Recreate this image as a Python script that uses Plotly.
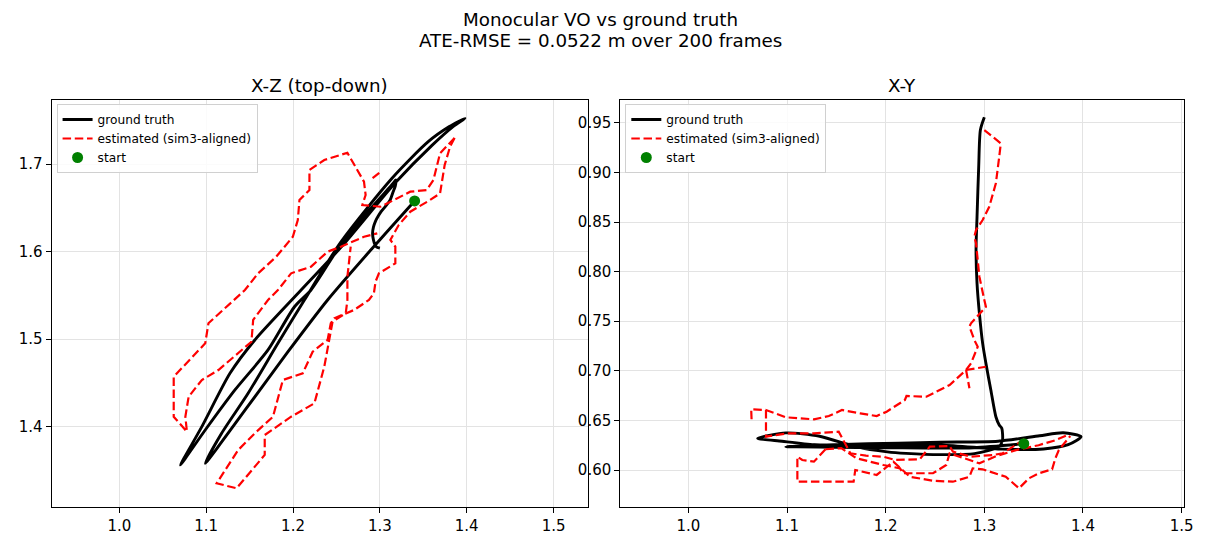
import plotly.graph_objects as go

# ---------------- data ----------------
# ground truth trajectory, frame order (x, y, z)
gt_x = [1.340, 1.2895, 1.2398, 1.194, 1.1483, 1.0989,
        1.1178, 1.1483, 1.1826, 1.2131, 1.255, 1.314, 1.356, 1.380, 1.398,
        1.385, 1.360, 1.318, 1.257, 1.2093, 1.156, 1.1274, 1.095, 1.0703,
        1.0989, 1.1331, 1.1712, 1.2017, 1.2207, 1.255, 1.290, 1.3151, 1.3184,
        1.3177, 1.3151, 1.3117, 1.3066, 1.3016, 1.2983, 1.295, 1.2926, 1.2916,
        1.2926, 1.2943, 1.296, 1.300]
gt_y = [0.6265, 0.6225, 0.6222, 0.6225, 0.623, 0.6235,
        0.6245, 0.6255, 0.6265, 0.627, 0.628, 0.629, 0.6345, 0.6375, 0.6336,
        0.6255, 0.6212, 0.621, 0.625, 0.624, 0.6242, 0.6255, 0.629, 0.6319,
        0.6374, 0.634, 0.623, 0.6183, 0.6168, 0.6155, 0.6165, 0.6235, 0.630,
        0.642, 0.6454, 0.6537, 0.6806, 0.7076, 0.7277, 0.758, 0.7882, 0.8218,
        0.8553, 0.9057, 0.9427, 0.9555]
gt_z = [1.658, 1.6019, 1.5448, 1.4854, 1.4237, 1.3582,
        1.3925, 1.4382, 1.4953, 1.5448, 1.611, 1.684, 1.726, 1.743, 1.7525,
        1.7435, 1.7215, 1.679, 1.607, 1.5562, 1.4991, 1.461, 1.400, 1.3562,
        1.3962, 1.442, 1.4877, 1.5371, 1.5562, 1.608, 1.650, 1.678, 1.682,
        1.675, 1.668, 1.659, 1.652, 1.646, 1.641, 1.635, 1.628, 1.621,
        1.6135, 1.608, 1.6055, 1.604]

# estimated (sim3-aligned) trajectory, X-Z projection (strokes split by None)
est_xz_x = [1.386, 1.3693, 1.3617, 1.354, 1.335, 1.3198, 1.3007, 1.2798, 1.2836, 1.2817,
            1.2703, 1.2626, 1.236, 1.2189, 1.2189, 1.2074, 1.2055, 1.1998, 1.1807, 1.1598,
            1.1446, 1.1026, 1.0989, 1.0626, 1.0626, 1.0778, 1.076, 1.0798, 1.095, 1.1141,
            1.1521, 1.1541, 1.1712, 1.1826, 1.1978, 1.2207, 1.2398, 1.255, 1.2817, 1.297,
            None,
            1.386, 1.3808, 1.3746, 1.3693, 1.3578, 1.335, 1.3217, 1.3121, 1.3178, 1.3178,
            1.2989, 1.295, 1.2931, 1.2874, 1.2703, 1.2474, 1.2435, 1.2398, 1.2226, 1.2112,
            1.1883, 1.1769, 1.156, 1.1369, 1.1121, 1.135, 1.1674, 1.1674, 1.1978, 1.2246,
            1.236, 1.2455, 1.2607, 1.2626, 1.2626, 1.2664,
            None,
            1.2916, 1.2993]
est_xz_z = [1.730, 1.7125, 1.682, 1.6705, 1.6686, 1.661, 1.6514, 1.6534, 1.6648, 1.680,
            1.6991, 1.7131, 1.7048, 1.6934, 1.6705, 1.6591, 1.6362, 1.6171, 1.5943, 1.5753,
            1.5562, 1.5182, 1.4953, 1.4571, 1.4114, 1.3943, 1.4114, 1.4343, 1.4534, 1.4648,
            1.4971, 1.522, 1.5448, 1.5562, 1.5753, 1.5829, 1.600, 1.6057, 1.6171, 1.621,
            None,
            1.730, 1.720, 1.699, 1.6667, 1.6591, 1.6457, 1.6305, 1.6134, 1.6057, 1.5867,
            1.5753, 1.5657, 1.5525, 1.5448, 1.5334, 1.5239, 1.5182, 1.4991, 1.4857, 1.461,
            1.4534, 1.4114, 1.3925, 1.3734, 1.3353, 1.3296, 1.3677, 1.3905, 1.4114, 1.4267,
            1.4686, 1.520, 1.5296, 1.5448, 1.5714, 1.6057,
            None,
            1.684, 1.690]

# estimated trajectory, X-Y projection (strokes split by None)
est_xy_x = [1.300, 1.3167, 1.3151, 1.3117, 1.305, 1.2983, 1.2916, 1.2899, 1.2916, 1.295,
            1.300, 1.3016, 1.2865, 1.2849, 1.2899, 1.2933, 1.2865, 1.2815, 1.2648, 1.2547,
            1.2413, 1.2211, 1.2195, 1.201, 1.1909, 1.1742, 1.1557, 1.1424, 1.1273, 1.0988,
            1.0787, 1.0637, 1.0642,
            None, 1.2815, 1.3016, None, 1.2815, 1.2849,
            None,
            1.0787, 1.0787, 1.1004, 1.1273, 1.1524, 1.1592, 1.1642, 1.180, 1.1977, 1.2095,
            1.2346, 1.2447, 1.2648, 1.2681, 1.2865, 1.3083, 1.3184, 1.3318, 1.3418,
            None,
            1.139, 1.1273, 1.1155, 1.1105, 1.1105, 1.1675, 1.1692, 1.1909, 1.2078, 1.2245,
            1.248, 1.2681, 1.2849, 1.2882, 1.2983, 1.3117, 1.3217, 1.3352, 1.3453, 1.3553,
            1.3687, 1.372, 1.3755, 1.3871,
            None,
            1.139, 1.155, 1.170, 1.1977, 1.2145, 1.2178, 1.248, 1.2614, 1.2648, 1.2815,
            1.295, 1.312, 1.332, 1.355, 1.372, 1.386]
est_xy_y = [0.9427, 0.9293, 0.9158, 0.889, 0.8654, 0.852, 0.8419, 0.8352, 0.8285, 0.7949,
            0.7714, 0.7646, 0.7479, 0.7445, 0.731, 0.7243, 0.7076, 0.7008, 0.6857, 0.6806,
            0.6739, 0.6746, 0.6706, 0.6588, 0.6544, 0.6571, 0.6605, 0.6544, 0.6511, 0.6531,
            0.6605, 0.6612, 0.6487,
            None, 0.7008, 0.7041, None, 0.7008, 0.6824,
            None,
            0.6605, 0.6336, 0.637, 0.637, 0.6386, 0.6269, 0.6168, 0.6145, 0.6134, 0.6101,
            0.6108, 0.6235, 0.6242, 0.6185, 0.6134, 0.6151, 0.6168, 0.6252, 0.632,
            None,
            0.6209, 0.6084, 0.6101, 0.6134, 0.5882, 0.5882, 0.600, 0.595, 0.6084, 0.5932,
            0.5892, 0.5882, 0.5932, 0.6017, 0.6007, 0.5967, 0.5932, 0.5816, 0.5916, 0.5967,
            0.6007, 0.6118, 0.6202, 0.6343,
            None,
            0.6209, 0.622, 0.612, 0.605, 0.6017, 0.5967, 0.5967, 0.605, 0.6168, 0.6108,
            0.6067, 0.614, 0.620, 0.625, 0.630, 0.636]

start_x = [1.340]
start_y = [0.6265]
start_z = [1.658]

x_ticks = [1.0, 1.1, 1.2, 1.3, 1.4, 1.5]
z_ticks = [1.4, 1.5, 1.6, 1.7]
y_ticks = [0.60, 0.65, 0.70, 0.75, 0.80, 0.85, 0.90, 0.95]

# ---------------- figure ----------------
W, H = 1210, 550
FONT = "DejaVu Sans"
GT_STYLE = dict(color="black", width=2.9, shape="spline", smoothing=0.7)
EST_STYLE = dict(color="red", width=2.2, dash="8.5px,3.7px")

fig = go.Figure()

# left panel: X-Z
fig.add_trace(go.Scatter(x=gt_x, y=gt_z, mode="lines", line=GT_STYLE,
                         name="ground truth", xaxis="x", yaxis="y", legend="legend"))
fig.add_trace(go.Scatter(x=est_xz_x, y=est_xz_z, mode="lines", line=EST_STYLE,
                         name="estimated (sim3-aligned)", xaxis="x", yaxis="y",
                         legend="legend", connectgaps=False))
fig.add_trace(go.Scatter(x=start_x, y=start_z, mode="markers",
                         marker=dict(color="green", size=11), name="start",
                         xaxis="x", yaxis="y", legend="legend"))

# right panel: X-Y
fig.add_trace(go.Scatter(x=gt_x, y=gt_y, mode="lines", line=GT_STYLE,
                         name="ground truth", xaxis="x2", yaxis="y2", legend="legend2"))
fig.add_trace(go.Scatter(x=est_xy_x, y=est_xy_y, mode="lines", line=EST_STYLE,
                         name="estimated (sim3-aligned)", xaxis="x2", yaxis="y2",
                         legend="legend2", connectgaps=False))
fig.add_trace(go.Scatter(x=start_x, y=start_y, mode="markers",
                         marker=dict(color="green", size=11), name="start",
                         xaxis="x2", yaxis="y2", legend="legend2"))

ax_common = dict(showline=True, linecolor="black", linewidth=1.2, mirror=True,
                 ticks="outside", ticklen=5, tickwidth=1.2, tickcolor="black",
                 showgrid=True, gridcolor="#e3e3e3", gridwidth=1, zeroline=False,
                 tickfont=dict(family=FONT, size=15, color="black"))

L0, L1 = 52 / W, 592 / W
R0, R1 = 625 / W, 1193 / W
B0, T0 = 1 - 507 / H, 1 - 100 / H

LEG = dict(xanchor="left", yanchor="top", bgcolor="rgba(255,255,255,0.85)",
           bordercolor="#d0d0d0", borderwidth=1,
           font=dict(family=FONT, size=12.2, color="black"), itemwidth=30,
           tracegroupgap=0)

fig.update_layout(
    width=W, height=H, margin=dict(l=0, r=0, t=0, b=0),
    paper_bgcolor="white", plot_bgcolor="white",
    font=dict(family=FONT, size=15, color="black"),
    xaxis=dict(domain=[L0, L1], range=[0.922, 1.5392], tickvals=x_ticks,
               tickformat=".1f", anchor="y", **ax_common),
    yaxis=dict(domain=[B0, T0], range=[1.3082, 1.7734], tickvals=z_ticks,
               tickformat=".1f", anchor="x", **ax_common),
    xaxis2=dict(domain=[R0, R1], range=[0.9311, 1.5025], tickvals=x_ticks,
                tickformat=".1f", anchor="y2", **ax_common),
    yaxis2=dict(domain=[B0, T0], range=[0.5627, 0.973], tickvals=y_ticks,
                tickformat=".2f", anchor="x2", **ax_common),
    legend=dict(x=57 / W, y=1 - 104 / H, **LEG),
    legend2=dict(x=630 / W, y=1 - 104 / H, **LEG),
    showlegend=True,
    annotations=[
        dict(text="Monocular VO vs ground truth", x=0.5, y=1 - 19 / H, xref="paper",
             yref="paper", showarrow=False, font=dict(family=FONT, size=18.3),
             xanchor="center", yanchor="middle"),
        dict(text="ATE-RMSE = 0.0522 m over 200 frames", x=0.5, y=1 - 40 / H,
             xref="paper", yref="paper", showarrow=False,
             font=dict(family=FONT, size=18.3), xanchor="center", yanchor="middle"),
        dict(text="X-Z (top-down)", x=(L0 + L1) / 2, y=1 - 85 / H, xref="paper",
             yref="paper", showarrow=False, font=dict(family=FONT, size=18.3),
             xanchor="center", yanchor="middle"),
        dict(text="X-Y", x=(R0 + R1) / 2, y=1 - 85 / H, xref="paper", yref="paper",
             showarrow=False, font=dict(family=FONT, size=18.3),
             xanchor="center", yanchor="middle"),
    ],
)

fig.write_html("out.html")
